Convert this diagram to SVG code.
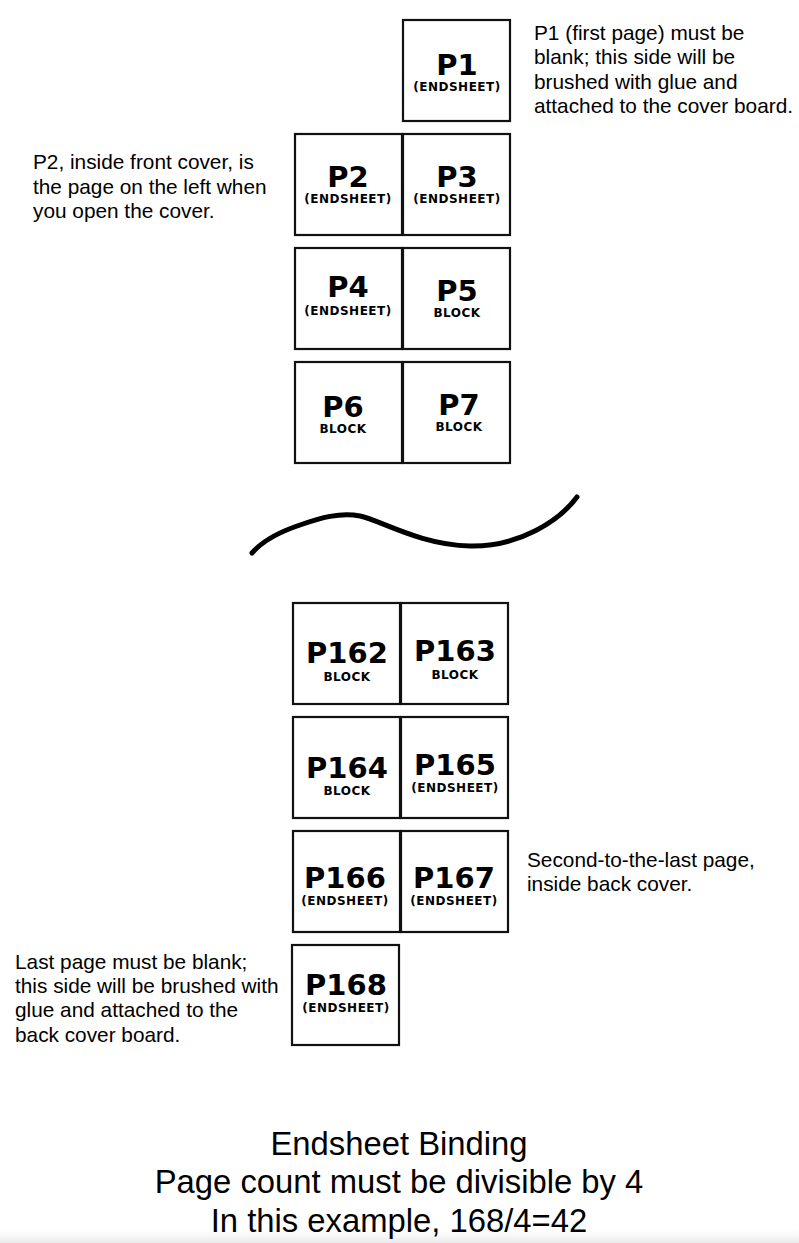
<svg xmlns="http://www.w3.org/2000/svg" width="799" height="1243" viewBox="0 0 799 1243">
<defs>
<style>
.box{fill:#fff;stroke:#111;stroke-width:2.2}
.p{font-family:"DejaVu Sans",sans-serif;font-weight:bold;font-size:29px;text-anchor:middle;fill:#000}
.s{font-family:"DejaVu Sans",sans-serif;font-weight:bold;font-size:12px;letter-spacing:0.5px;text-anchor:middle;fill:#000}
.note{font-family:"Liberation Sans",Arial,sans-serif;font-size:20.8px;fill:#000}
.title{font-family:"Liberation Sans",Arial,sans-serif;font-size:32.8px;fill:#000;text-anchor:middle}
</style>
<linearGradient id="shade" x1="0" y1="0" x2="0" y2="1">
<stop offset="0" stop-color="#fff" stop-opacity="0"/>
<stop offset="1" stop-color="#e8e8e8"/>
</linearGradient>
</defs>
<rect width="799" height="1243" fill="#fff"/>
<rect x="0" y="1226" width="799" height="17" fill="url(#shade)"/>

<g id="P1"><rect class="box" x="403" y="20" width="107" height="101"/><text class="p" x="457" y="75">P1</text><text class="s" x="457" y="91">(ENDSHEET)</text></g>
<g id="P2"><rect class="box" x="295" y="134" width="107" height="101"/><text class="p" x="348" y="187">P2</text><text class="s" x="348" y="203">(ENDSHEET)</text></g>
<g id="P3"><rect class="box" x="403" y="134" width="107" height="101"/><text class="p" x="457" y="187">P3</text><text class="s" x="457" y="203">(ENDSHEET)</text></g>
<g id="P4"><rect class="box" x="295" y="248" width="107" height="101"/><text class="p" x="348" y="297">P4</text><text class="s" x="348" y="315">(ENDSHEET)</text></g>
<g id="P5"><rect class="box" x="403" y="248" width="107" height="101"/><text class="p" x="457" y="301">P5</text><text class="s" x="457" y="317">BLOCK</text></g>
<g id="P6"><rect class="box" x="295" y="362" width="107" height="101"/><text class="p" x="343" y="417">P6</text><text class="s" x="343" y="433">BLOCK</text></g>
<g id="P7"><rect class="box" x="403" y="362" width="107" height="101"/><text class="p" x="459" y="415">P7</text><text class="s" x="459" y="431">BLOCK</text></g>

<g id="P162"><rect class="box" x="293" y="603" width="107" height="101"/><text class="p" x="347" y="663">P162</text><text class="s" x="347" y="681">BLOCK</text></g>
<g id="P163"><rect class="box" x="401" y="603" width="107" height="101"/><text class="p" x="455" y="661">P163</text><text class="s" x="455" y="679">BLOCK</text></g>
<g id="P164"><rect class="box" x="293" y="717" width="107" height="101"/><text class="p" x="347" y="778">P164</text><text class="s" x="347" y="795">BLOCK</text></g>
<g id="P165"><rect class="box" x="401" y="717" width="107" height="101"/><text class="p" x="455" y="775">P165</text><text class="s" x="455" y="792">(ENDSHEET)</text></g>
<g id="P166"><rect class="box" x="293" y="831" width="107" height="101"/><text class="p" x="345" y="888">P166</text><text class="s" x="345" y="905">(ENDSHEET)</text></g>
<g id="P167"><rect class="box" x="401" y="831" width="107" height="101"/><text class="p" x="454" y="888">P167</text><text class="s" x="454" y="905">(ENDSHEET)</text></g>
<g id="P168"><rect class="box" x="292" y="945" width="107" height="100"/><text class="p" x="346" y="995">P168</text><text class="s" x="346" y="1012">(ENDSHEET)</text></g>

<g id="connectors">
<path d="M252,553 C265,538 285,530 300,525 C320,518 340,512 360,516 C380,520 420,545 470,546 C520,547 560,520 577,497" fill="none" stroke="#000" stroke-width="5" stroke-linecap="round"/>
</g>

<g id="notes">
<text class="note" x="534" y="40">P1 (first page) must be</text>
<text class="note" x="534" y="64">blank; this side will be</text>
<text class="note" x="534" y="89">brushed with glue and</text>
<text class="note" x="534" y="113">attached to the cover board.</text>

<text class="note" x="33" y="169">P2, inside front cover, is</text>
<text class="note" x="33" y="194">the page on the left when</text>
<text class="note" x="33" y="218">you open the cover.</text>

<text class="note" x="527" y="867">Second-to-the-last page,</text>
<text class="note" x="527" y="891">inside back cover.</text>

<text class="note" x="15" y="969">Last page must be blank;</text>
<text class="note" x="15" y="993">this side will be brushed with</text>
<text class="note" x="15" y="1017">glue and attached to the</text>
<text class="note" x="15" y="1042">back cover board.</text>

<text class="title" x="399" y="1155">Endsheet Binding</text>
<text class="title" x="399" y="1193">Page count must be divisible by 4</text>
<text class="title" x="399" y="1232">In this example, 168/4=42</text>
</g>
</svg>
